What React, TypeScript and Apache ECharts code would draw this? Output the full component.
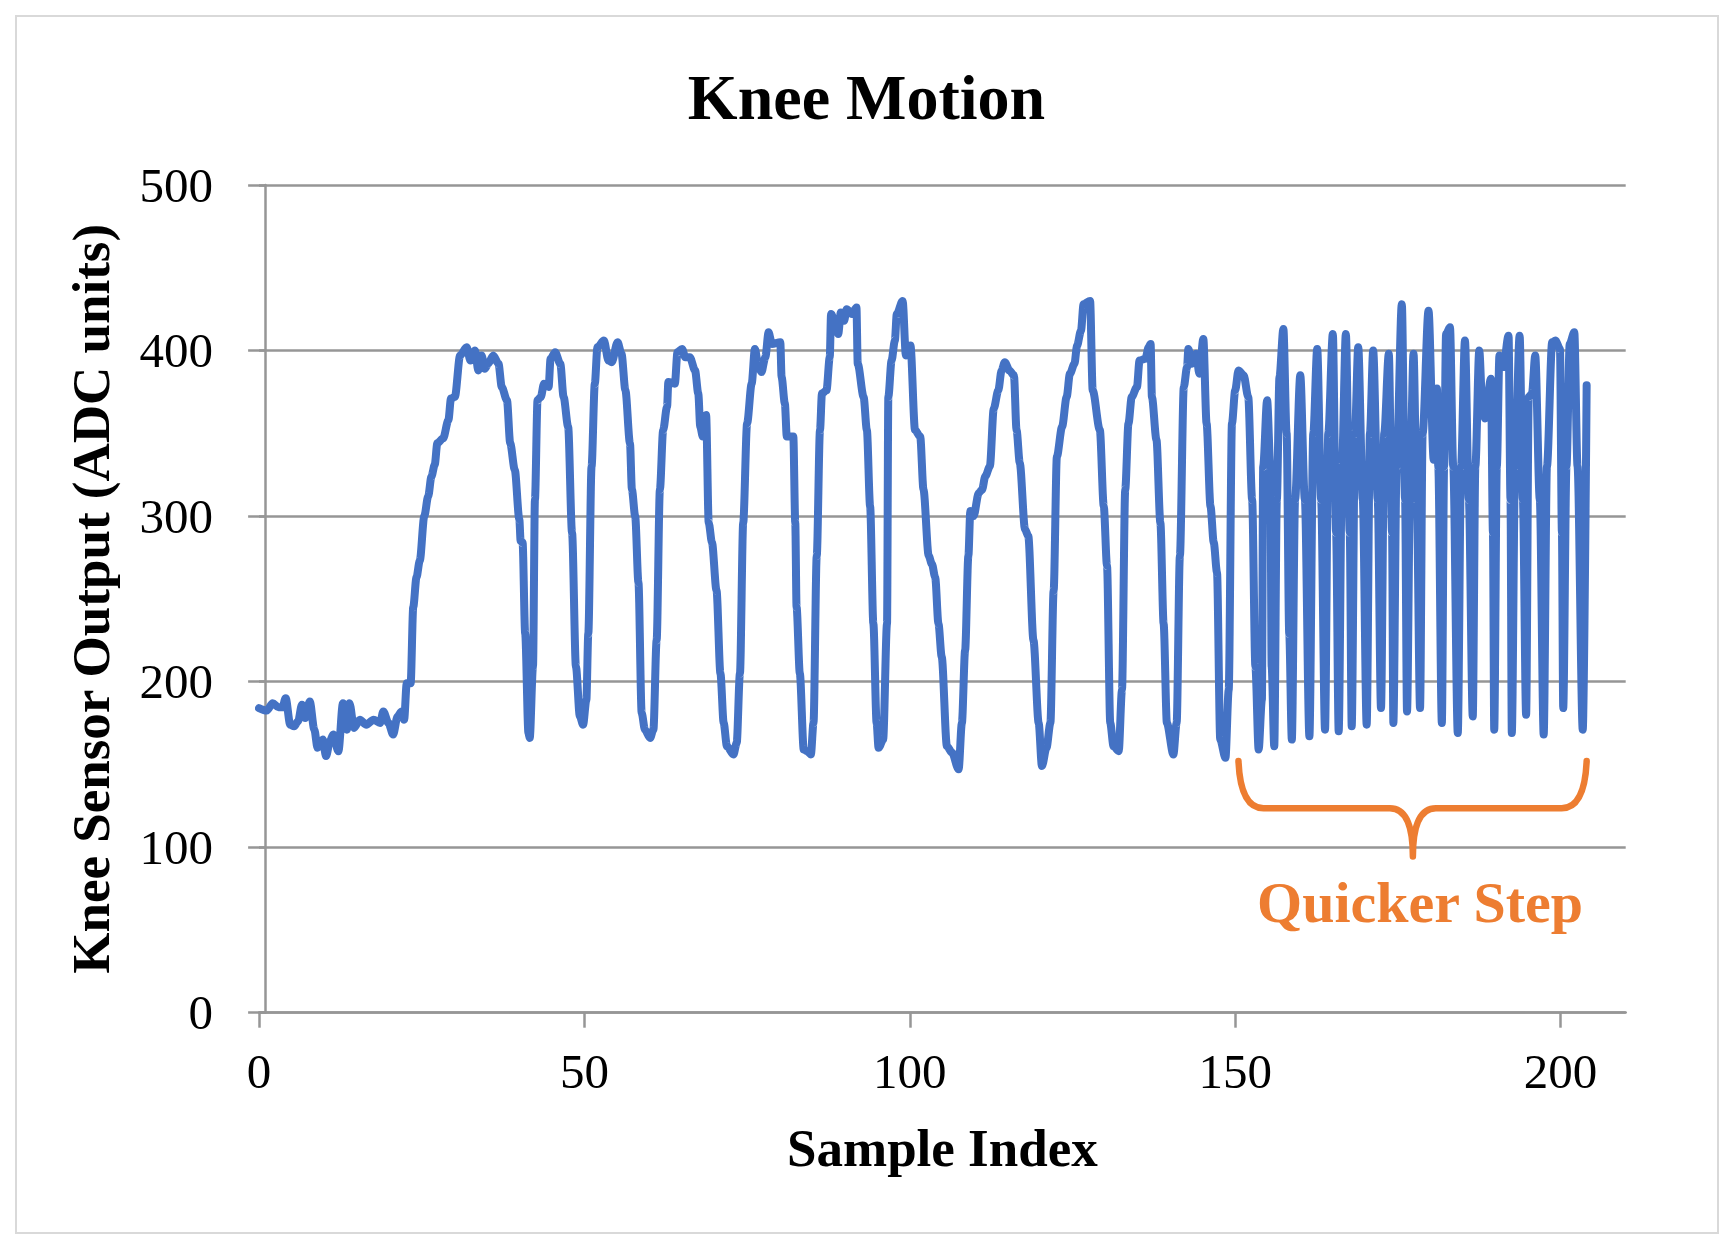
import React, { useEffect, useRef } from "react";
import * as echarts from "echarts";

const FONT = '"Liberation Serif", "Times New Roman", serif';
const GRID_COLOR = "#969696";
const LINE_COLOR = "#4472C4";
const ORANGE = "#ED7D31";

const X_TICKS = [0, 50, 100, 150, 200];

// sample positions (x)
const sampleIndex = [
  0, 1.2, 2.1, 3.0, 3.6, 4.1, 4.8, 5.4, 6.0, 6.6, 7.1, 7.8, 8.5, 9.0, 9.8, 10.3, 10.9, 11.4, 12.2, 12.9,
  13.5, 13.9, 14.6, 15.5, 16.5, 17.6, 18.6, 19.1, 19.9, 20.6, 21.3, 21.9, 22.3, 22.7, 23.3, 23.7, 24.2, 24.7, 25.4, 26.0,
  26.5, 27.0, 27.4, 28.3, 29.1, 29.5, 30.1, 30.9, 31.9, 32.5, 33.2, 33.7, 34.2, 34.7, 35.2, 36.0, 36.8, 37.3, 38.1, 38.6,
  39.3, 40.0, 40.2, 40.5, 40.9, 41.4, 41.6, 42.1, 42.4, 42.8, 43.3, 43.8, 44.5, 44.8, 45.5, 46.3, 46.8, 47.5, 48.1, 48.7,
  49.3, 49.8, 50.3, 50.6, 51.1, 51.6, 52.0, 53.0, 53.7, 54.2, 55.1, 55.7, 56.3, 57.0, 57.3, 57.8, 58.3, 58.8, 59.3, 60.1,
  60.6, 61.1, 61.6, 62.1, 62.7, 62.9, 63.9, 64.3, 65.0, 65.5, 66.2, 67.0, 67.5, 67.8, 68.2, 68.7, 69.1, 69.6, 70.3, 70.9,
  71.4, 71.9, 72.9, 73.4, 73.9, 74.4, 75.0, 75.7, 76.2, 76.7, 77.2, 77.8, 78.3, 78.8, 80.1, 80.3, 80.8, 81.1, 82.1, 82.4,
  82.6, 83.1, 83.7, 84.2, 84.8, 85.2, 85.7, 86.2, 86.5, 87.2, 87.7, 87.9, 88.5, 89.0, 89.4, 89.9, 90.3, 91.1, 91.8, 92.0,
  92.9, 93.4, 93.9, 94.4, 94.9, 95.2, 95.9, 96.5, 96.7, 97.2, 97.7, 98.0, 98.9, 99.4, 100.1, 100.8, 101.6, 102.1, 102.9, 103.4,
  103.9, 104.4, 104.9, 105.7, 106.5, 107.5, 108.0, 108.5, 109.0, 109.3, 109.8, 110.6, 111.1, 111.6, 112.3, 112.9, 113.6, 114.1, 114.6, 115.3,
  116.0, 116.4, 116.9, 117.7, 118.2, 119.0, 119.8, 120.3, 121.0, 121.6, 122.1, 122.6, 123.4, 124.1, 124.6, 125.3, 125.7, 126.3, 126.7, 127.7,
  128.1, 129.2, 129.8, 130.3, 130.8, 131.3, 132.1, 132.6, 133.1, 133.6, 134.1, 134.9, 135.3, 136.2, 136.7, 137.0, 137.2, 137.9, 138.5, 139.0,
  139.5, 140.5, 141.0, 141.5, 142.1, 142.6, 142.8, 143.3, 144.0, 144.5, 145.1, 145.6, 146.2, 146.7, 147.2, 147.7, 148.5, 149.0, 149.5, 150.0,
  150.5, 151.3, 152.0, 152.6, 153.1, 153.6, 154.1, 154.3, 154.9, 155.4, 155.6, 156.0, 156.4, 156.8, 157.4, 157.9, 158.3, 158.7, 159.2, 160.0,
  160.7, 161.4, 162.0, 162.6, 163.2, 163.8, 164.3, 165.0, 165.5, 165.9, 166.4, 167.0, 167.6, 167.9, 168.4, 168.9, 169.6, 170.2, 170.7, 171.2,
  171.9, 172.4, 172.9, 173.6, 174.1, 174.3, 174.8, 175.6, 176.1, 176.4, 176.9, 177.4, 177.9, 178.4, 178.8, 179.7, 180.5, 181.0, 181.2, 181.75,
  182.1, 182.4, 183.0, 183.5, 184.2, 184.7, 185.3, 185.9, 186.5, 186.9, 187.5, 188.0, 188.4, 189.3, 189.6, 189.8, 190.2, 190.6, 191.2, 192.0,
  192.3, 192.5, 193.0, 193.7, 194.2, 194.7, 195.1, 195.6, 196.1, 196.8, 197.4, 197.9, 198.7, 199.2, 199.9, 200.2, 200.4, 200.9, 201.4, 202.1,
  202.6, 203.4, 204.0,
];

// knee sensor output (ADC units) at those positions
const sensorOutput = [
  184, 182.5, 187, 184.5, 184.5, 190, 174, 173, 176, 186, 178, 188, 171, 160, 165, 155, 164, 168, 158, 187,
  171, 187, 172, 177, 174, 177, 175, 182, 175, 168, 179, 182, 177, 199, 199, 245, 263, 273, 300, 312,
  324, 331, 344, 347, 358, 371, 372, 397, 402, 394, 400, 388, 397, 389, 392, 397, 392, 378, 370, 344,
  328, 298, 285, 284, 229, 169, 166, 209, 310, 370, 372, 380, 378, 395, 399, 392, 372, 354, 290, 209,
  179, 174, 189, 229, 330, 380, 402, 406, 394, 393, 405, 398, 376, 344, 316, 300, 260, 181, 171, 166,
  171, 225, 316, 352, 366, 381, 380, 399, 401, 396, 396, 388, 374, 354, 348, 361, 296, 284, 255, 205,
  175, 161, 156, 163, 205, 296, 356, 380, 401, 391, 387, 396, 411, 404, 405, 384, 368, 348, 348, 296,
  245, 205, 159, 158, 156, 175, 276, 352, 374, 376, 396, 422, 417, 410, 423, 418, 425, 422, 426, 392,
  372, 352, 306, 235, 175, 160, 165, 235, 372, 394, 406, 422, 430, 397, 403, 352, 348, 316, 276, 271,
  263, 235, 215, 161, 157, 147, 175, 219, 276, 303, 300, 314, 316, 324, 330, 365, 376, 388, 393, 388,
  385, 352, 332, 292, 288, 225, 175, 149, 160, 175, 255, 336, 354, 372, 386, 392, 403, 412, 428, 430,
  376, 352, 306, 270, 175, 161, 158, 195, 316, 356, 372, 378, 394, 395, 402, 404, 372, 346, 296, 235,
  175, 156, 175, 276, 378, 390, 401, 392, 398, 386, 407, 356, 306, 284, 266, 165, 154, 195, 356, 376,
  388, 385, 372, 310, 209, 159, 189, 330, 370, 330, 209, 161, 310, 384, 413, 350, 229, 165, 310, 385,
  310, 167, 350, 401, 310, 171, 350, 410, 290, 170, 330, 410, 290, 173, 350, 402, 310, 174, 350, 400,
  310, 184, 350, 398, 290, 175, 330, 428, 310, 182, 330, 398, 310, 184, 350, 424, 334, 377, 330, 175,
  330, 410, 414, 330, 169, 330, 406, 310, 179, 330, 400, 364, 359, 383, 290, 171, 330, 397, 390, 409,
  310, 169, 330, 409, 310, 180, 372, 374, 397, 310, 168, 330, 405, 406, 401, 290, 184, 330, 404, 411,
  330, 171, 379,
];

// "Quicker Step" brace: left/centre/right x, and top / bar / tip y (data units)
const braceX = [150.5, 177.3, 204.0];
const braceY = [152, 123.5, 94.3];
const braceLabel = "Quicker Step";
const braceLabelPos = [178.4, 66.6];

export default function App() {
  const ref = useRef<HTMLDivElement>(null);

  useEffect(() => {
    if (!ref.current) return;
    const chart = echarts.init(ref.current, undefined, { renderer: "svg" });
    const axisLineStyle = { color: GRID_COLOR, width: 2.5 };

    const option: any = {
      animation: false,
      backgroundColor: "#ffffff",
      title: {
        text: "Knee Motion",
        left: "center",
        top: 60,
        textStyle: { fontFamily: FONT, fontWeight: "bold", fontSize: 64, color: "#000" },
      },
      graphic: [
        {
          type: "rect",
          shape: { x: 16, y: 16, width: 1702, height: 1217 },
          style: { fill: "none", stroke: "#d9d9d9", lineWidth: 2 },
          silent: true,
          z: -10,
        },
      ],
      grid: {
        left: 259,
        right: 107.3,
        top: 185,
        bottom: 236.3,
        containLabel: false,
        outerBoundsMode: "none",
      },
      xAxis: [
        {
          type: "value",
          min: 0,
          max: 210,
          interval: 50,
          name: "Sample Index",
          nameLocation: "middle",
          nameGap: 109,
          nameTextStyle: { fontFamily: FONT, fontWeight: "bold", fontSize: 53, color: "#000" },
          axisLine: { show: true, lineStyle: axisLineStyle },
          axisTick: { show: true, length: 15, lineStyle: axisLineStyle, customValues: X_TICKS },
          axisLabel: {
            margin: 34,
            fontFamily: FONT,
            fontSize: 49,
            color: "#000",
            customValues: X_TICKS,
          },
          splitLine: { show: false },
        },
        {
          type: "value",
          gridIndex: 0,
          position: "top",
          min: -1,
          max: 209,
          axisLine: { show: false },
          axisTick: { show: false },
          axisLabel: { show: false },
          splitLine: { show: false },
        },
      ],
      yAxis: {
        type: "value",
        min: 0,
        max: 500,
        interval: 100,
        name: "Knee Sensor Output (ADC units)",
        nameLocation: "middle",
        nameRotate: 90,
        nameGap: 142,
        nameTextStyle: { fontFamily: FONT, fontWeight: "bold", fontSize: 53, color: "#000" },
        axisLine: { show: true, onZero: true, onZeroAxisIndex: 1, lineStyle: axisLineStyle },
        axisTick: { show: true, length: 17.4, lineStyle: axisLineStyle },
        axisLabel: { margin: 46, fontFamily: FONT, fontSize: 49, color: "#000" },
        splitLine: { show: true, lineStyle: axisLineStyle },
      },
      series: [
        {
          type: "line",
          xAxisIndex: 0,
          data: sampleIndex.map((x, i) => [x, sensorOutput[i]]),
          showSymbol: false,
          symbol: "none",
          smooth: 0.3,
          smoothMonotone: "x",
          lineStyle: { color: LINE_COLOR, width: 8, join: "round", cap: "round" },
          silent: true,
          z: 3,
        },
        {
          type: "custom",
          xAxisIndex: 0,
          coordinateSystem: "cartesian2d",
          data: [[braceX[1], braceY[2]]],
          silent: true,
          clip: false,
          z: 4,
          renderItem: (_params: any, api: any) => {
            const L = api.coord([braceX[0], braceY[0]]);
            const C = api.coord([braceX[1], braceY[2]]);
            const R = api.coord([braceX[2], braceY[0]]);
            const yH = api.coord([braceX[1], braceY[1]])[1];
            const r = 25;
            const d =
              `M ${L[0]} ${L[1]} Q ${L[0] + 2} ${yH} ${L[0] + r} ${yH} ` +
              `L ${C[0] - 23} ${yH} Q ${C[0]} ${yH} ${C[0]} ${C[1]} ` +
              `Q ${C[0]} ${yH} ${C[0] + 23} ${yH} ` +
              `L ${R[0] - r} ${yH} Q ${R[0] - 2} ${yH} ${R[0]} ${R[1]}`;
            const T = api.coord(braceLabelPos);
            return {
              type: "group",
              children: [
                {
                  type: "path",
                  shape: { pathData: d },
                  style: { fill: "none", stroke: ORANGE, lineWidth: 6.5, lineCap: "round", lineJoin: "round" },
                },
                {
                  type: "text",
                  x: T[0],
                  y: T[1],
                  style: {
                    text: braceLabel,
                    fill: ORANGE,
                    fontFamily: FONT,
                    fontWeight: "bold",
                    fontSize: 58,
                    align: "center",
                    verticalAlign: "middle",
                  },
                },
              ],
            };
          },
        },
      ],
    };

    chart.setOption(option);
    return () => chart.dispose();
  }, []);

  return (
    <div
      ref={ref}
      style={{ position: "absolute", left: 0, top: 0, width: 1733, height: 1249, background: "#fff" }}
    />
  );
}
